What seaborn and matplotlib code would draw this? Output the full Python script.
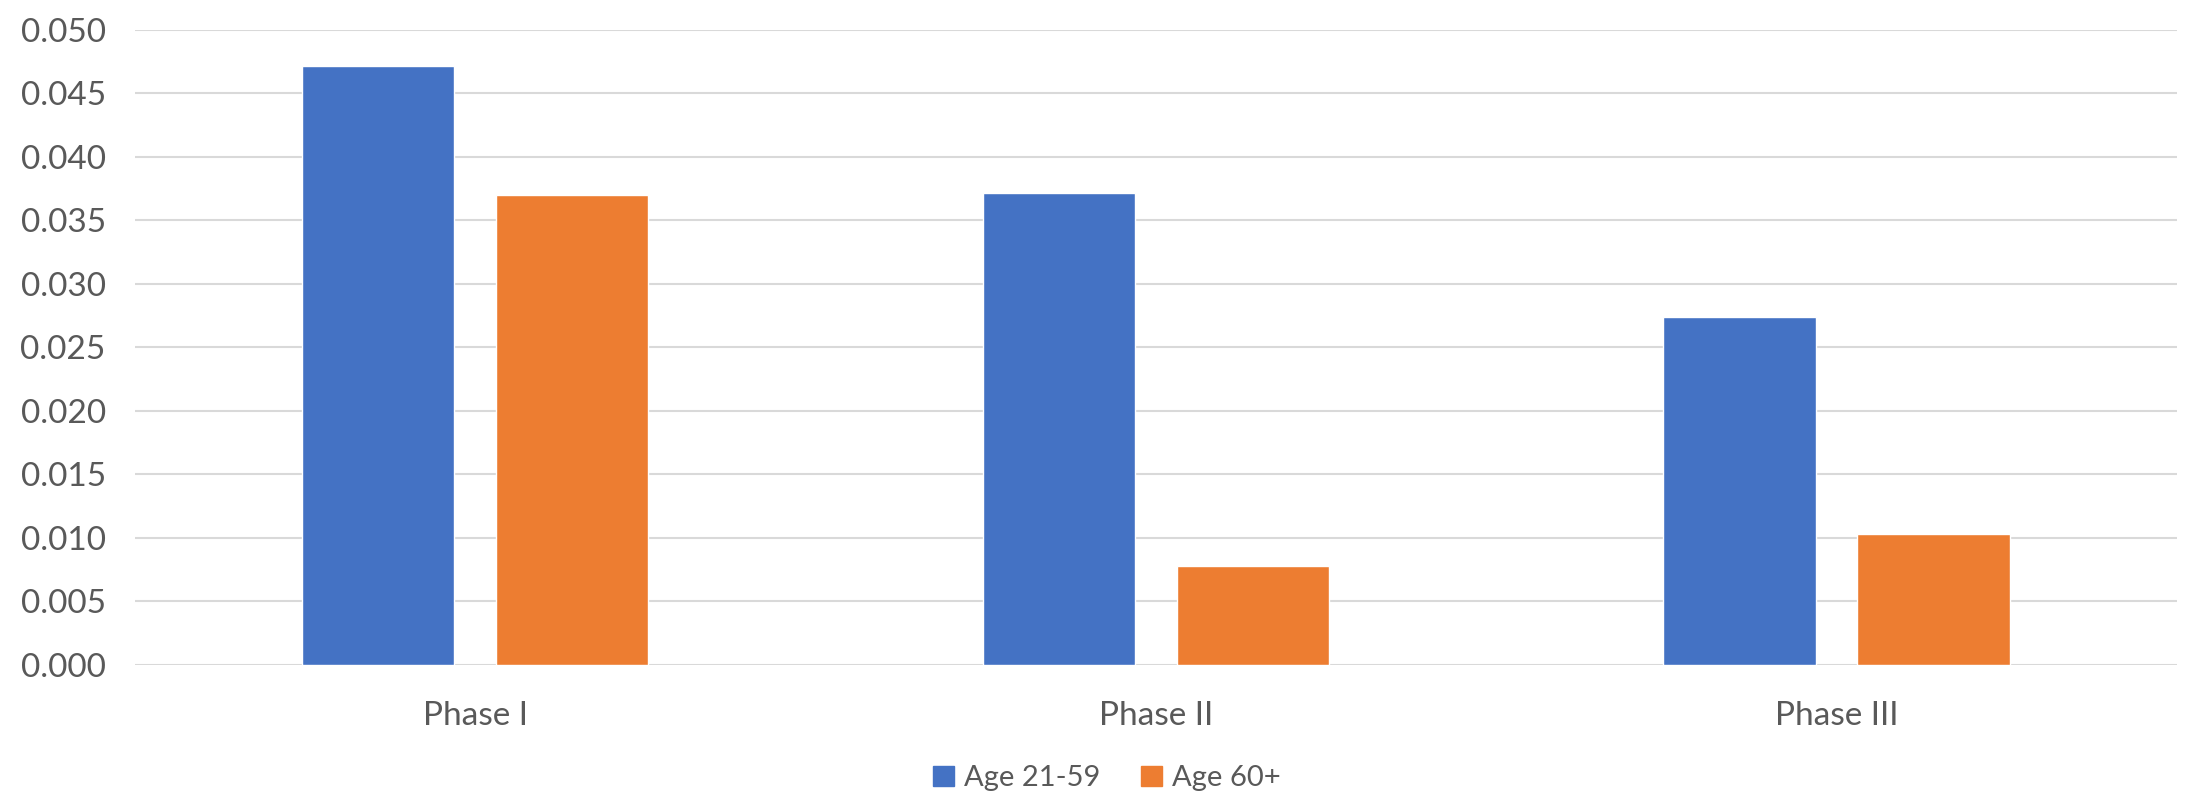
import matplotlib
matplotlib.use("Agg")
import matplotlib.pyplot as plt
import seaborn as sns
import pandas as pd

# Rates by study phase and age group
phases = ["Phase I", "Phase II", "Phase III"]
age_groups = ["Age 21-59", "Age 60+"]
rate_21_59 = [0.0472, 0.0372, 0.0274]
rate_60_plus = [0.0370, 0.0078, 0.0103]
y_ticks = [0.000, 0.005, 0.010, 0.015, 0.020, 0.025, 0.030, 0.035, 0.040, 0.045, 0.050]

df = pd.DataFrame({
    "phase": phases * 2,
    "group": [age_groups[0]] * 3 + [age_groups[1]] * 3,
    "rate": rate_21_59 + rate_60_plus,
})

sns.set_theme(style="white")
plt.rcParams["font.family"] = ["Lato", "DejaVu Sans"]

text_color = "#595959"
grid_color = "#D9D9D9"
palette = {"Age 21-59": "#4472C4", "Age 60+": "#ED7D31"}

fig = plt.figure(figsize=(21.9, 8.0), dpi=100)
ax = fig.add_axes([0.0616, 0.169, 0.9324, 0.7935])

sns.barplot(data=df, x="phase", y="rate", hue="group", order=phases,
            hue_order=age_groups, palette=palette, width=0.570, gap=0.216,
            saturation=1.0, errorbar=None, legend=False, ax=ax, zorder=3)

ax.set_ylim(0, 0.05)
ax.set_xlim(-0.5, 2.5)
ax.set_yticks(y_ticks)
ax.set_yticklabels([f"{v:.3f}" for v in y_ticks])
ax.yaxis.grid(True, color=grid_color, linewidth=1.5, zorder=0)
ax.xaxis.grid(False)
ax.set_axisbelow(True)
for s in ax.spines.values():
    s.set_visible(False)
ax.tick_params(axis="y", length=0, pad=21, labelsize=24, labelcolor=text_color)
ax.tick_params(axis="x", length=0, pad=26, labelsize=24, labelcolor=text_color)
ax.set_xlabel("")
ax.set_ylabel("")

handles = [plt.Rectangle((0, 0), 1, 1, color=palette[g]) for g in age_groups]
fig.legend(handles, age_groups, loc="center", bbox_to_anchor=(0.5055, 0.027),
           ncol=2, frameon=False, fontsize=21, labelcolor=text_color,
           handlelength=0.7, handleheight=0.7, handletextpad=0.35,
           columnspacing=1.4)

fig.savefig("out.png", dpi=100)
